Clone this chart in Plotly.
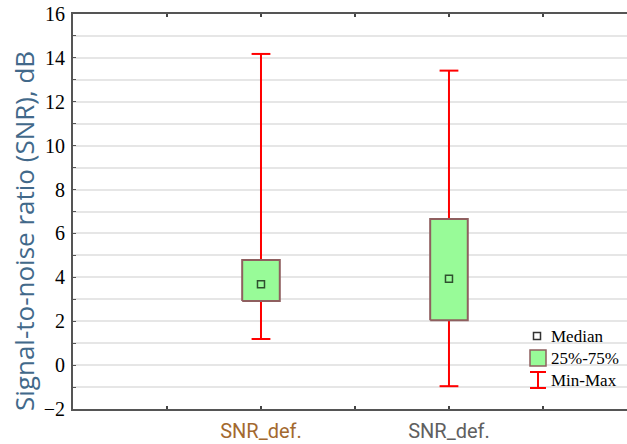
import plotly.graph_objects as go

# ---- data ----
categories = ["SNR_def.", "SNR_def."]
x_pos = [1, 2]
q_min = [1.19, -0.96]
q1 = [2.92, 2.05]
median = [3.68, 3.94]
q3 = [4.79, 6.66]
q_max = [14.18, 13.42]
label_colors = ["#A3692F", "#606060"]
y_ticks = [-2, 0, 2, 4, 6, 8, 10, 12, 14, 16]
legend_labels = ["Median", "25%-75%", "Min-Max"]
y_title = "Signal-to-noise ratio (SNR), dB"

BOX_HALF = 0.1
CAP_HALF = 0.05
WHISKER = "#FF0000"
BOX_FILL = "#98FB98"
BOX_LINE = "#8F5F5F"
MED_LINE = "#2F4F2F"

fig = go.Figure()

# whiskers with caps
wx, wy = [], []
for x, lo, hi in zip(x_pos, q_min, q_max):
    wx += [x, x, None, x - CAP_HALF, x + CAP_HALF, None, x - CAP_HALF, x + CAP_HALF, None]
    wy += [lo, hi, None, hi, hi, None, lo, lo, None]
fig.add_trace(go.Scatter(x=wx, y=wy, mode="lines",
                         line=dict(color=WHISKER, width=2), showlegend=False,
                         hoverinfo="skip"))

# boxes
bx, by = [], []
for x, a, b in zip(x_pos, q1, q3):
    bx += [x - BOX_HALF, x + BOX_HALF, x + BOX_HALF, x - BOX_HALF, x - BOX_HALF, None]
    by += [a, a, b, b, a, None]
fig.add_trace(go.Scatter(x=bx, y=by, mode="lines", fill="toself",
                         fillcolor=BOX_FILL, line=dict(color=BOX_LINE, width=2),
                         showlegend=False, hoverinfo="skip"))

# medians
fig.add_trace(go.Scatter(x=x_pos, y=median, mode="markers",
                         marker=dict(symbol="square", size=7, color=BOX_FILL,
                                     line=dict(color=MED_LINE, width=1.5)),
                         showlegend=False))

# ---- manual legend (paper coords) ----
PL, PR, PT, PB = 73, 627, 14, 409
def px(xp):
    return (xp - PL) / (PR - PL)
def py(yp):
    return (PB - yp) / (PB - PT)

leg_font = dict(family="Liberation Serif", size=17, color="#000000")
rows_y = [336, 358, 380]
for lab, yy in zip(legend_labels, rows_y):
    fig.add_annotation(x=px(549), y=py(yy), xref="paper", yref="paper",
                       text=lab, showarrow=False, xanchor="left", yanchor="middle",
                       font=leg_font)
# median glyph
fig.add_shape(type="rect", xref="paper", yref="paper", xsizemode="pixel", ysizemode="pixel",
              xanchor=px(537), yanchor=py(rows_y[0]), x0=-3.5, x1=3.5, y0=-3.5, y1=3.5,
              fillcolor="white", line=dict(color="#333333", width=1.5))
# box glyph
fig.add_shape(type="rect", xref="paper", yref="paper", xsizemode="pixel", ysizemode="pixel",
              xanchor=px(538), yanchor=py(rows_y[1]), x0=-8, x1=8, y0=-8, y1=8,
              fillcolor=BOX_FILL, line=dict(color=BOX_LINE, width=1.5))
# min-max glyph
cy = py(rows_y[2])
fig.add_shape(type="line", xref="paper", yref="paper", xsizemode="pixel", ysizemode="pixel",
              xanchor=px(538), yanchor=cy, x0=0, x1=0, y0=-8, y1=8,
              line=dict(color=WHISKER, width=2))
fig.add_shape(type="line", xref="paper", yref="paper", xsizemode="pixel", ysizemode="pixel",
              xanchor=px(538), yanchor=cy, x0=-8, x1=8, y0=8, y1=8,
              line=dict(color=WHISKER, width=2))
fig.add_shape(type="line", xref="paper", yref="paper", xsizemode="pixel", ysizemode="pixel",
              xanchor=px(538), yanchor=cy, x0=-8, x1=8, y0=-8, y1=-8,
              line=dict(color=WHISKER, width=2))

# y-axis title (placed as in the reference, slightly below centre)
fig.add_annotation(x=px(24), y=py(231), xref="paper", yref="paper",
                   text=y_title, textangle=-90, showarrow=False,
                   xanchor="center", yanchor="middle",
                   font=dict(family="Open Sans", size=26, color="#42698A"))

ticktext = [f'<span style="color:{c}">{t}</span>' for t, c in zip(categories, label_colors)]

fig.update_layout(
    width=627, height=444,
    margin=dict(l=PL, r=627 - PR, t=PT, b=444 - PB),
    paper_bgcolor="white", plot_bgcolor="white",
    showlegend=False,
    xaxis=dict(range=[0, 2.947], tickvals=x_pos, ticktext=ticktext,
               ticks="inside", ticklen=3, tickcolor="#444444", tickwidth=2,
               showgrid=False, zeroline=False,
               showline=True, linecolor="#555555", linewidth=2, mirror="ticks",
               tickfont=dict(family="Roboto", size=20, color="#606060"),
               ticklabelstandoff=3,
               minor=dict(dtick=0.5, tick0=0, ticks="inside", ticklen=3,
                          tickcolor="#444444", tickwidth=2, showgrid=False)),
    yaxis=dict(range=[-2, 16], tickvals=y_ticks, ticks="inside", ticklen=3,
               tickcolor="#555555", tickwidth=1,
               showgrid=True, gridcolor="#E6E6E6", gridwidth=2,
               zeroline=False, showline=True, linecolor="#555555", linewidth=2,
               tickfont=dict(family="Liberation Serif", size=20, color="#000000"),
               ticklabelstandoff=2,
               minor=dict(dtick=1, tick0=0, ticks="inside", ticklen=3,
                          tickcolor="#555555", showgrid=True,
                          gridcolor="#E6E6E6", gridwidth=2)),
)

fig.write_html("out.html", config={"displayModeBar": False},
               post_script="document.body.style.margin='0';document.body.style.overflow='hidden';")
